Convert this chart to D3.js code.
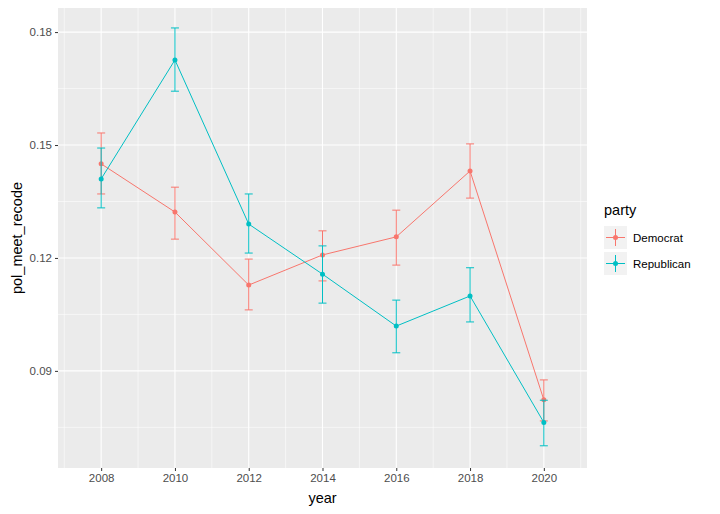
<!DOCTYPE html><html><head><script src="https://cdn.jsdelivr.net/npm/d3@7"></script>
<style>body{margin:0;background:#fff}</style></head><body><svg id="c" width="720" height="514"></svg>
<script>
const years=[2008,2010,2012,2014,2016,2018,2020];
const demMean=[0.1450,0.1322,0.1128,0.1208,0.1256,0.1431,0.0823];
const demLo=[0.1370,0.1250,0.1062,0.1139,0.1181,0.1359,0.0767];
const demHi=[0.1532,0.1388,0.1197,0.1272,0.1327,0.1503,0.0876];
const repMean=[0.1410,0.1726,0.1290,0.1157,0.1019,0.1099,0.0763];
const repLo=[0.1333,0.1643,0.1213,0.1080,0.0948,0.1030,0.0701];
const repHi=[0.1492,0.1811,0.1370,0.1232,0.1088,0.1174,0.0822];
const yTicks=[0.09,0.12,0.15,0.18];
const yMinor=[0.075,0.105,0.135,0.165];
const xMinor=[2007,2009,2011,2013,2015,2017,2019,2021];
const series=[{name:"Democrat",color:"#F8766D",m:demMean,lo:demLo,hi:demHi},{name:"Republican",color:"#00BFC4",m:repMean,lo:repLo,hi:repHi}];
const svg=d3.select("#c");
const L=58,R=587,T=8,B=468;
const x=d3.scaleLinear().domain([2006.83,2021.17]).range([L,R]);
const y=d3.scaleLinear().domain([0.0642,0.1864]).range([B,T]);
svg.append("rect").attr("x",L).attr("y",T).attr("width",R-L).attr("height",B-T).attr("fill","#EBEBEB");
const g=svg.append("g");
xMinor.forEach(v=>{if(x(v)>L&&x(v)<R)g.append("line").attr("x1",x(v)).attr("x2",x(v)).attr("y1",T).attr("y2",B).attr("stroke","#fff").attr("stroke-width",0.55);});
yMinor.forEach(v=>g.append("line").attr("x1",L).attr("x2",R).attr("y1",y(v)).attr("y2",y(v)).attr("stroke","#fff").attr("stroke-width",0.55));
years.forEach(v=>g.append("line").attr("x1",x(v)).attr("x2",x(v)).attr("y1",T).attr("y2",B).attr("stroke","#fff").attr("stroke-width",1.1));
yTicks.forEach(v=>g.append("line").attr("x1",L).attr("x2",R).attr("y1",y(v)).attr("y2",y(v)).attr("stroke","#fff").attr("stroke-width",1.1));
const ya=svg.append("g").attr("transform",`translate(${L},0)`).call(d3.axisLeft(y).tickValues(yTicks).tickSize(3).tickPadding(3).tickFormat(d3.format(".2f")));
const xa=svg.append("g").attr("transform",`translate(0,${B})`).call(d3.axisBottom(x).tickValues(years).tickSize(3).tickPadding(3).tickFormat(d3.format("d")));
[ya,xa].forEach(a=>{a.select(".domain").remove();a.selectAll("line").attr("stroke","#333");a.selectAll("text").attr("fill","#4D4D4D").attr("font-size",11.5).attr("font-family","Liberation Sans, Arial");});
series.forEach(s=>{
 const line=d3.line().x((d,i)=>x(years[i])).y(d=>y(d));
 svg.append("path").attr("d",line(s.m)).attr("fill","none").attr("stroke",s.color).attr("stroke-width",1);
 years.forEach((yr,i)=>{
  const cx=x(yr);
  svg.append("line").attr("x1",cx).attr("x2",cx).attr("y1",y(s.lo[i])).attr("y2",y(s.hi[i])).attr("stroke",s.color);
  [s.lo[i],s.hi[i]].forEach(v=>svg.append("line").attr("x1",cx-4).attr("x2",cx+4).attr("y1",y(v)).attr("y2",y(v)).attr("stroke",s.color));
  svg.append("circle").attr("cx",cx).attr("cy",y(s.m[i])).attr("r",2.5).attr("fill",s.color);
 });
});
svg.append("text").attr("x",(L+R)/2).attr("y",503).attr("text-anchor","middle").attr("font-size",14.5).attr("font-family","Liberation Sans, Arial").text("year");
svg.append("text").attr("transform",`translate(22,${(T+B)/2}) rotate(-90)`).attr("text-anchor","middle").attr("font-size",14.5).attr("font-family","Liberation Sans, Arial").text("pol_meet_recode");
svg.append("text").attr("x",604).attr("y",215).attr("font-size",14.5).attr("font-family","Liberation Sans, Arial").text("party");
series.forEach((s,i)=>{
 const ky=226+i*26;
 svg.append("rect").attr("x",604).attr("y",ky).attr("width",23).attr("height",23).attr("fill","#F2F2F2");
 svg.append("line").attr("x1",606).attr("x2",625).attr("y1",ky+11.5).attr("y2",ky+11.5).attr("stroke",s.color);
 svg.append("line").attr("x1",615.5).attr("x2",615.5).attr("y1",ky+3).attr("y2",ky+20).attr("stroke",s.color);
 svg.append("circle").attr("cx",615.5).attr("cy",ky+11.5).attr("r",2.5).attr("fill",s.color);
 svg.append("text").attr("x",633).attr("y",ky+15.5).attr("font-size",11.5).attr("font-family","Liberation Sans, Arial").text(s.name);
});
</script></body></html>
